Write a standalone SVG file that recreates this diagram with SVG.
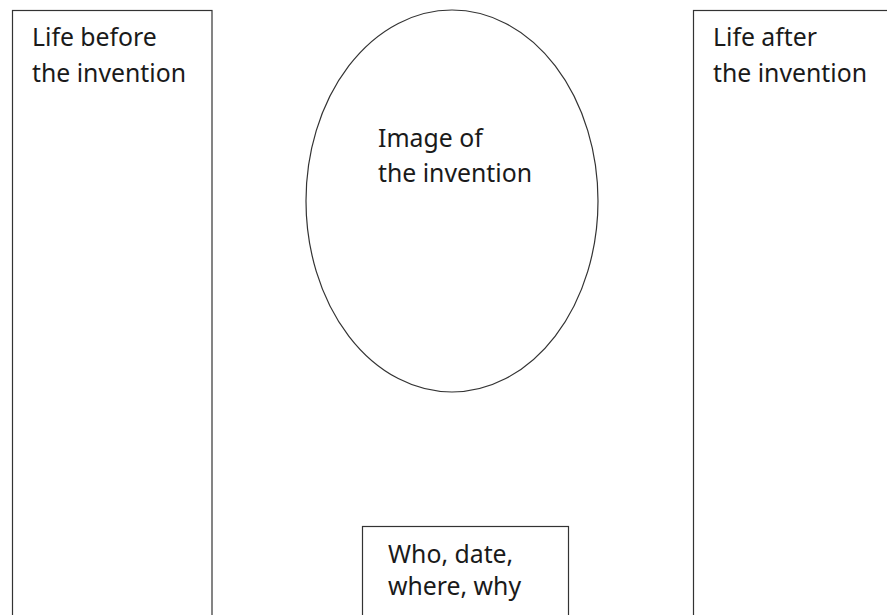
<svg xmlns="http://www.w3.org/2000/svg" width="887" height="615" viewBox="0 0 887 615">
<style>
.shape{fill:#fff;stroke:#333;stroke-width:1.2}
.lbl{font-family:"Noto Sans","Open Sans",sans-serif;font-size:24.8px;fill:#1a1a1a}
</style>
<rect width="887" height="615" fill="#fff"/>
<g id="before">
<rect class="shape" x="12.5" y="10.5" width="199.5" height="620"/>
<text class="lbl" x="32" y="46">Life before</text>
<text class="lbl" x="32" y="82">the invention</text>
</g>
<g id="after">
<rect class="shape" x="693.5" y="10.5" width="220" height="620"/>
<text class="lbl" x="713" y="46">Life after</text>
<text class="lbl" x="713" y="82">the invention</text>
</g>
<g id="image">
<ellipse class="shape" cx="452" cy="201" rx="146" ry="191"/>
<text class="lbl" x="378" y="147">Image of</text>
<text class="lbl" x="378" y="182">the invention</text>
</g>
<g id="who">
<rect class="shape" x="362.5" y="526.5" width="206" height="110"/>
<text class="lbl" x="388" y="563">Who, date,</text>
<text class="lbl" x="388" y="595">where, why</text>
</g>
<g id="connectors"></g>
</svg>
